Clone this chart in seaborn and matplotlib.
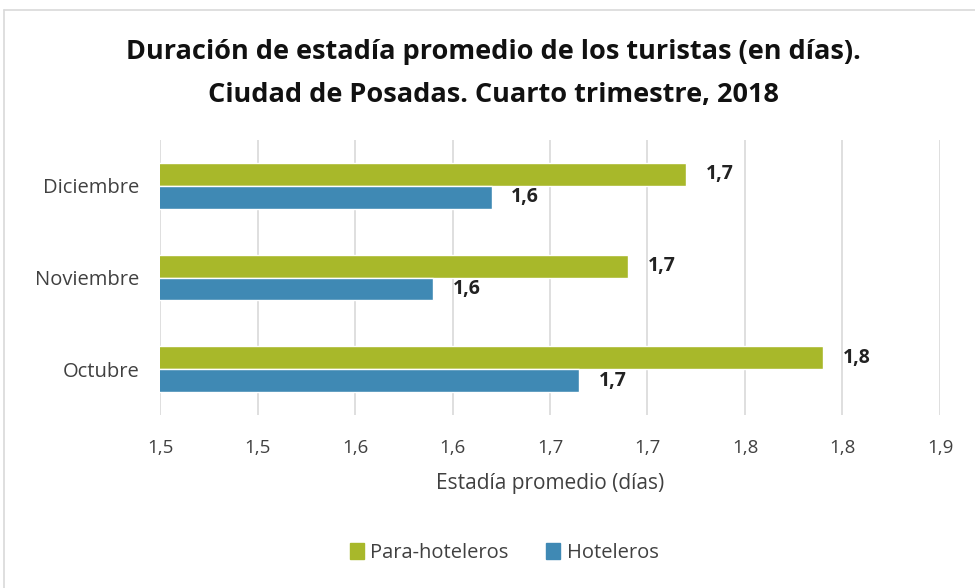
import matplotlib
matplotlib.use("Agg")
import matplotlib.pyplot as plt
from matplotlib.lines import Line2D
import seaborn as sns
import pandas as pd

# datos (duracion en dias)
meses = ["Diciembre", "Noviembre", "Octubre"]
para_hoteleros = [1.72, 1.69, 1.79]
hoteleros = [1.62, 1.59, 1.665]
series = ["Para-hoteleros", "Hoteleros"]
ticks = [1.45, 1.50, 1.55, 1.60, 1.65, 1.70, 1.75, 1.80, 1.85]
tick_labels = ["1,5", "1,5", "1,6", "1,6", "1,7", "1,7", "1,8", "1,8", "1,9"]
colores = ["#A8B82A", "#3F89B4"]

df = pd.DataFrame({
    "mes": meses * 2,
    "valor": para_hoteleros + hoteleros,
    "tipo": [series[0]] * 3 + [series[1]] * 3,
})

sns.set_theme(style="white")
plt.rcParams["font.family"] = ["Open Sans", "DejaVu Sans"]

fig = plt.figure(figsize=(9.75, 5.88), dpi=100)
ax = fig.add_axes([160 / 975, 1 - 415 / 588, 780 / 975, 275 / 588])

sns.barplot(data=df, x="valor", y="mes", hue="tipo", order=meses, hue_order=series,
            palette=colores, width=0.5, orient="h", ax=ax, saturation=1)

ax.set_xlim(ticks[0], ticks[-1])
ax.set_xticks(ticks)
ax.set_xticklabels(tick_labels, fontsize=13.5, color="#404040")
ax.tick_params(axis="y", labelsize=14.5, labelcolor="#404040", length=0, pad=15)
ax.tick_params(axis="x", length=0, pad=17)
ax.grid(axis="x", color="#D9D9D9", linewidth=1.2)
ax.set_axisbelow(True)
for s in ax.spines.values():
    s.set_visible(False)
ax.set_ylabel("")
ax.set_xlabel("Estadía promedio (días)", fontsize=15, color="#404040", labelpad=12)

for cont in ax.containers:
    labs = [f"{b.get_width():.1f}".replace(".", ",") for b in cont]
    ax.bar_label(cont, labels=labs, padding=14, fontsize=14, fontweight="bold", color="#222222")

ax.legend_.remove()
handles = [plt.Rectangle((0, 0), 1, 1, color=c) for c in colores]
fig.legend(handles, series, loc="center", bbox_to_anchor=(504 / 975, 1 - 553 / 588), ncol=2,
           frameon=False, fontsize=14.5, handlelength=0.7, handleheight=0.8,
           handletextpad=0.3, columnspacing=1.9, labelcolor="#404040")

fig.text(493 / 975, 1 - 52 / 588, "Duración de estadía promedio de los turistas (en días).",
         ha="center", va="center", fontsize=19.5, fontweight="bold", color="#111111")
fig.text(493 / 975, 1 - 95 / 588, "Ciudad de Posadas. Cuarto trimestre, 2018",
         ha="center", va="center", fontsize=19.5, fontweight="bold", color="#111111")

fig.add_artist(Line2D([4 / 975, 1.01], [1 - 10 / 588] * 2, color="#D9D9D9", lw=1.2))
fig.add_artist(Line2D([4 / 975] * 2, [-0.01, 1 - 10 / 588], color="#D9D9D9", lw=1.2))

fig.savefig("out.png", dpi=100, facecolor="white")
